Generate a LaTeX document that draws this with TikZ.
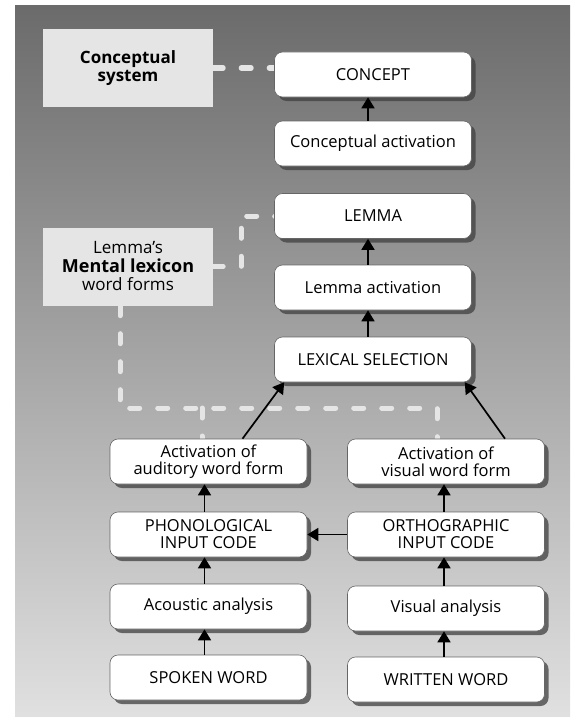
\documentclass[tikz,border=0pt]{standalone}
\usepackage{fontspec}
\setmainfont{Open Sans}
\usetikzlibrary{arrows.meta,shadows,calc}

\tikzset{
    stage/.style={draw=black!60, line width=0.6pt, fill=white, rounded corners=8pt,
        minimum width=197pt, minimum height=45pt, align=center, inner sep=1pt,
        font=\fontsize{16.5}{17}\selectfont,
        drop shadow={shadow xshift=4pt, shadow yshift=-4pt, fill=black!75, opacity=0.75}},
    store/.style={fill=black!10, minimum width=170pt, minimum height=78pt, align=center,
        font=\fontsize{17}{18.5}\selectfont},
    flow/.style={-{Triangle[width=13pt,length=11pt]}, line width=1.7pt},
    link/.style={draw=black!10, line width=5pt, line cap=round, dash pattern=on 10pt off 18pt}
}

\begin{document}
\begin{tikzpicture}[x=1pt, y=-1pt]
        \useasboundingbox (0,0) rectangle (570,717);
        \fill[white] (0,0) rectangle (570,717);
        \shade[top color=black!58, bottom color=black!12] (15,6) rectangle (570,717);

        \node[store] (concsys) at (128,68) {\textbf{Conceptual}\\\textbf{system}};
        \node[store] (lexicon) at (128,266.5) {Lemma's\\{\fontsize{18}{20}\selectfont\bfseries Mental lexicon}\\word forms};

        \draw[link] (concsys.east) -- (concsys.east -| 275,0);
        \draw[link] (lexicon.east) -| (241,216) -- (275,216);
        \draw[link] ([xshift=-8pt]lexicon.south) |- (437,408) -- (437,440);
        \draw[link] (202,408) -- (202,440);

        \node[stage] (concept) at (373,74.5) {CONCEPT};
        \node[stage] (cact) at (373,143.5) {Conceptual activation};
        \node[stage] (lemma) at (373,216) {LEMMA};
        \node[stage] (lact) at (373,287.5) {Lemma activation};
        \node[stage] (lexsel) at (373,359.5) {LEXICAL SELECTION};

        \node[stage] (aud) at (208.5,461.5) {Activation of\\auditory word form};
        \node[stage] (vis) at (446,461.5) {Activation of\\visual word form};
        \node[stage] (phon) at (208.5,534.5) {PHONOLOGICAL\\INPUT CODE};
        \node[stage] (orth) at (446,534.5) {ORTHOGRAPHIC\\INPUT CODE};
        \node[stage] (acou) at (208.5,606.5) {Acoustic analysis};
        \node[stage] (visan) at (446,608.5) {Visual analysis};
        \node[stage] (spoken) at (208.5,677.5) {SPOKEN WORD};
        \node[stage] (written) at (446,679.5) {WRITTEN WORD};

        \draw[flow] ([xshift=-5pt]cact.north) -- ([xshift=-5pt]concept.south);
        \draw[flow] ([xshift=-5pt]lact.north) -- ([xshift=-5pt]lemma.south);
        \draw[flow] ([xshift=-5pt]lexsel.north) -- ([xshift=-5pt]lact.south);

        \draw[flow] ($(aud.north)+(34,0)$) -- ($(lexsel.south west)+(10,0)$);
        \draw[flow] ($(vis.north)+(59,0)$) -- ($(lexsel.south east)+(-7,0)$);

        \draw[flow] ([xshift=-4pt]phon.north) -- ([xshift=-4pt]aud.south);
        \draw[flow] ([xshift=-4pt]acou.north) -- ([xshift=-4pt]phon.south);
        \draw[flow] ([xshift=-4pt]spoken.north) -- ([xshift=-4pt]acou.south);

        \draw[flow] ([xshift=-2pt]orth.north) -- ([xshift=-2pt]vis.south);
        \draw[flow] ([xshift=-2pt]visan.north) -- ([xshift=-2pt]orth.south);
        \draw[flow] ([xshift=-2pt]written.north) -- ([xshift=-2pt]visan.south);

        \draw[flow] (orth.west) -- (phon.east);
    \end{tikzpicture}
\end{document}
